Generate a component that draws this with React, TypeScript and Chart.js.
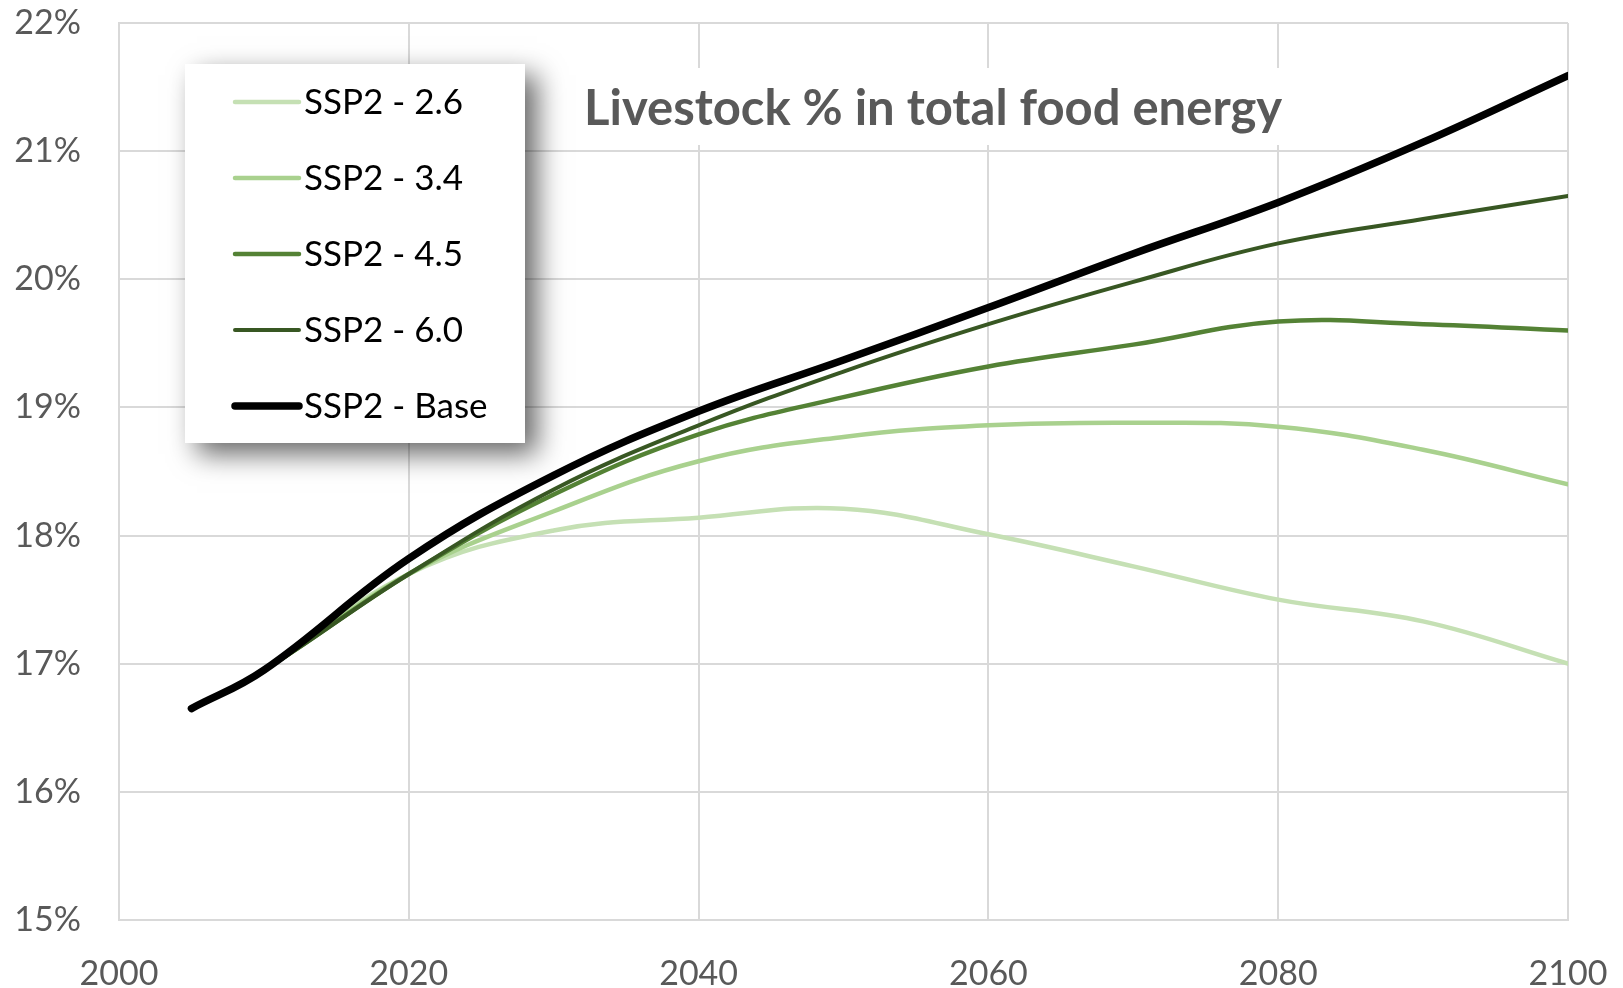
import React, { useEffect, useRef } from "react";
import { Chart, registerables } from "chart.js";

Chart.register(...registerables);

// Projection years and the livestock share (%) of total food energy per scenario
const years = [2005, 2010, 2020, 2030, 2040, 2050, 2060, 2070, 2080, 2090, 2100];
const ssp26 = [16.65, 16.95, 17.7, 18.04, 18.14, 18.21, 18.01, 17.76, 17.5, 17.33, 17.0];
const ssp34 = [16.65, 16.95, 17.7, 18.19, 18.58, 18.77, 18.86, 18.88, 18.85, 18.67, 18.4];
const ssp45 = [16.65, 16.95, 17.7, 18.32, 18.79, 19.08, 19.32, 19.49, 19.67, 19.65, 19.6];
const ssp60 = [16.65, 16.95, 17.7, 18.36, 18.86, 19.28, 19.65, 19.98, 20.28, 20.47, 20.65];
const sspBase = [16.65, 16.95, 17.82, 18.47, 18.97, 19.37, 19.78, 20.2, 20.6, 21.07, 21.59];

const seriesNames = ["SSP2 - 2.6", "SSP2 - 3.4", "SSP2 - 4.5", "SSP2 - 6.0", "SSP2 - Base"];
const seriesValues = [ssp26, ssp34, ssp45, ssp60, sspBase];
const seriesColors = ["#C5E0B4", "#A9D18E", "#548235", "#385723", "#000000"];
const seriesWidths = [4.5, 4.5, 4.5, 4, 7.5];

const xMin = 2000;
const xMax = 2100;
const xStep = 20;
const yMin = 15;
const yMax = 22;
const yStep = 1;

const chartTitle = "Livestock % in total food energy";

const FONT = "Lato, 'Open Sans', sans-serif";
const GRID = "#D9D9D9";
const LABEL = "#595959";

// Draws the boxed legend (with drop shadow) and the in-plot title
const overlayPlugin = {
  id: "overlay",
  afterDraw(chart: any) {
    const ctx: CanvasRenderingContext2D = chart.ctx;
    ctx.save();

    // title backdrop hides the gridlines behind the text
    ctx.fillStyle = "#ffffff";
    ctx.fillRect(570, 68, 724, 77);
    ctx.fillStyle = LABEL;
    ctx.font = `bold 49px ${FONT}`;
    ctx.textAlign = "left";
    ctx.textBaseline = "alphabetic";
    ctx.fillText(chartTitle, 584, 125);

    // legend box
    const bx = 185, by = 64, bw = 340, bh = 379;
    ctx.save();
    ctx.shadowColor = "rgba(0,0,0,0.6)";
    ctx.shadowBlur = 26;
    ctx.shadowOffsetX = 12;
    ctx.shadowOffsetY = 11;
    ctx.fillStyle = "#ffffff";
    ctx.fillRect(bx, by, bw, bh);
    ctx.restore();
    ctx.fillStyle = "#ffffff";
    ctx.fillRect(bx, by, bw, bh);

    const rowY = [102, 178, 254, 330, 406];
    ctx.font = `35px ${FONT}`;
    ctx.textBaseline = "middle";
    seriesNames.forEach((name, i) => {
      const y = rowY[i];
      ctx.strokeStyle = seriesColors[i];
      ctx.lineWidth = seriesWidths[i];
      ctx.lineCap = "round";
      ctx.beginPath();
      ctx.moveTo(235, y);
      ctx.lineTo(299, y);
      ctx.stroke();
      ctx.fillStyle = "#000000";
      ctx.fillText(name, 304, y + 1);
    });

    ctx.restore();
  },
};

export default function App() {
  const canvasRef = useRef<HTMLCanvasElement | null>(null);

  useEffect(() => {
    const canvas = canvasRef.current;
    if (!canvas) return;

    const datasets = seriesNames.map((name, i) => ({
      label: name,
      data: years.map((yr, j) => ({ x: yr, y: seriesValues[i][j] })),
      borderColor: seriesColors[i],
      backgroundColor: seriesColors[i],
      borderWidth: seriesWidths[i],
      pointRadius: 0,
      pointHoverRadius: 0,
      tension: 0.4,
      fill: false,
      borderCapStyle: "round" as const,
      borderJoinStyle: "round" as const,
      order: seriesNames.length - 1 - i,
    }));

    const chart = new Chart(canvas, {
      type: "line",
      data: { datasets },
      options: {
        responsive: false,
        animation: false,
        devicePixelRatio: 1,
        layout: { padding: { left: 0, right: 55, top: 23, bottom: 0 } },
        plugins: {
          legend: { display: false },
          title: { display: false },
          tooltip: { enabled: false },
        },
        scales: {
          x: {
            type: "linear",
            min: xMin,
            max: xMax,
            ticks: {
              stepSize: xStep,
              color: LABEL,
              font: { family: FONT, size: 34 },
              padding: 34,
              maxRotation: 0,
              callback: (v: any) => String(v),
            },
            grid: { color: GRID, lineWidth: 2, drawTicks: false },
            border: { color: GRID, width: 2 },
            afterFit: (s: any) => {
              s.height = 68;
              s.paddingLeft = 0;
              s.paddingRight = 0;
            },
          },
          y: {
            type: "linear",
            min: yMin,
            max: yMax,
            ticks: {
              stepSize: yStep,
              color: LABEL,
              font: { family: FONT, size: 34 },
              padding: 38,
              callback: (v: any) => `${v}%`,
            },
            grid: { color: GRID, lineWidth: 2, drawTicks: false },
            border: { color: GRID, width: 2 },
            afterFit: (s: any) => {
              s.width = 119;
              s.paddingTop = 0;
              s.paddingBottom = 0;
            },
          },
        },
      },
      plugins: [overlayPlugin],
    });

    return () => chart.destroy();
  }, []);

  return (
    <div
      style={{
        position: "fixed",
        left: 0,
        top: 0,
        width: 1623,
        height: 988,
        background: "#ffffff",
      }}
    >
      <canvas ref={canvasRef} width={1623} height={988} />
    </div>
  );
}
